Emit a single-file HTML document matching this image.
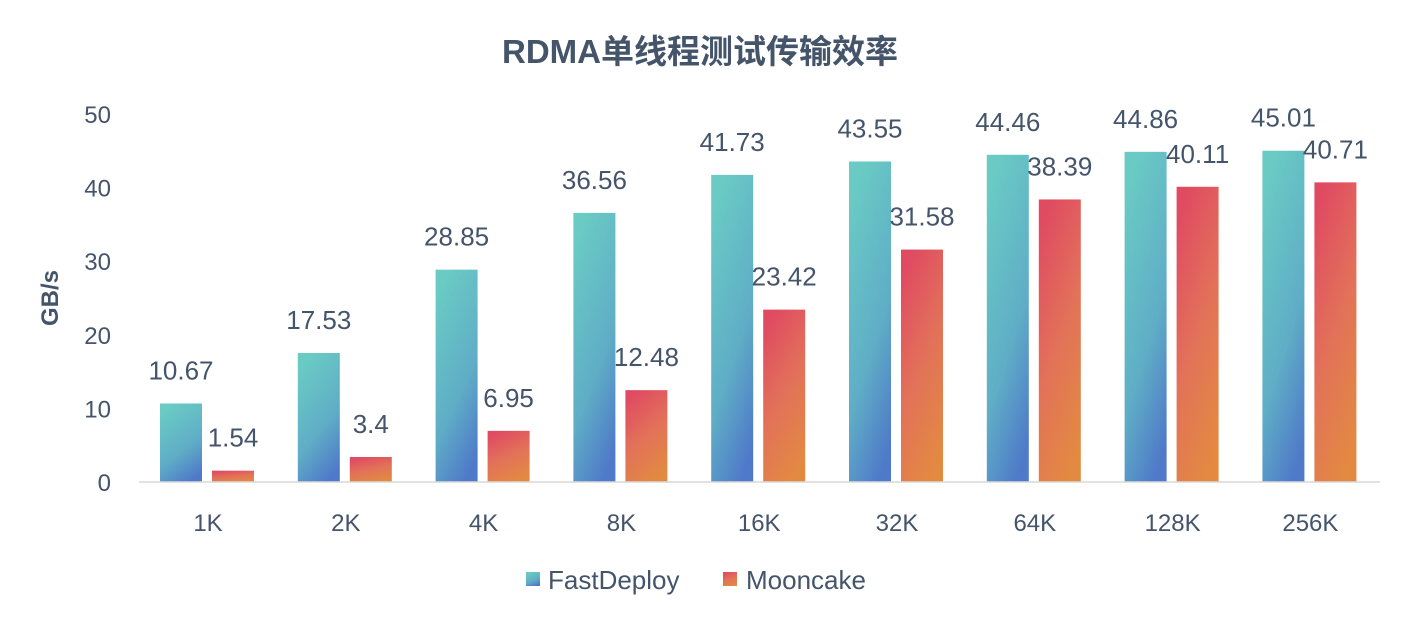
<!DOCTYPE html>
<html><head><meta charset="utf-8"><style>
body{margin:0;background:#fff;}
svg text{font-family:"Liberation Sans","Noto Sans CJK SC",sans-serif;fill:#44546a;}
</style></head><body>
<svg width="1412" height="624" xmlns="http://www.w3.org/2000/svg">
<defs>
<linearGradient id="gFD" x1="0.3" y1="0" x2="0.7" y2="1"><stop offset="0" stop-color="#6acbc4"/><stop offset="0.6" stop-color="#5fadc6"/><stop offset="1" stop-color="#4f79c9"/></linearGradient>
<linearGradient id="gMC" x1="0.3" y1="0" x2="0.7" y2="1"><stop offset="0" stop-color="#e04b62"/><stop offset="0.5" stop-color="#e27259"/><stop offset="1" stop-color="#e38a41"/></linearGradient>
</defs>
<text x="700" y="63" text-anchor="middle" font-size="33" font-weight="bold">RDMA单线程测试传输效率</text>
<text transform="translate(58,298) rotate(-90)" text-anchor="middle" font-size="24" font-weight="bold">GB/s</text>
<g id="yaxis"></g><g id="bars"></g><g id="xaxis"></g>
<line x1="139" y1="482" x2="1380" y2="482" stroke="#d9d9d9" stroke-width="1.5"/>
<g>
<rect x="526" y="572" width="14" height="14" fill="url(#gFD)"/>
<text x="548" y="589" font-size="26">FastDeploy</text>
<rect x="723" y="572" width="14" height="14" fill="url(#gMC)"/>
<text x="746" y="589" font-size="26">Mooncake</text>
</g>
</svg>
<script>
const categories=["1K","2K","4K","8K","16K","32K","64K","128K","256K"];
const fastDeploy=[10.67,17.53,28.85,36.56,41.73,43.55,44.46,44.86,45.01];
const mooncake=[1.54,3.4,6.95,12.48,23.42,31.58,38.39,40.11,40.71];
const yTicks=[0,10,20,30,40,50];
const NS="http://www.w3.org/2000/svg";
const y0=482,ppu=7.36;
const yS=v=>y0-v*ppu;
const xC=i=>208+i*137.8;
function mk(tag,attrs,parent,txt){const e=document.createElementNS(NS,tag);for(const k in attrs)e.setAttribute(k,attrs[k]);if(txt!==undefined)e.textContent=txt;parent.appendChild(e);return e;}
const ya=document.getElementById('yaxis'),bg=document.getElementById('bars'),xa=document.getElementById('xaxis');
yTicks.forEach(t=>{const e=mk('text',{x:111,y:yS(t)+9,'text-anchor':'end','font-size':24},ya,String(t));

});
categories.forEach((c,i)=>{
 const cx=xC(i);
 const l=mk('text',{x:cx,y:531,'text-anchor':'middle','font-size':24},xa,c);
 
 
 const b1=mk('rect',{x:cx-48,y:yS(fastDeploy[i]),width:42,height:fastDeploy[i]*ppu,fill:'url(#gFD)'},bg);
 
 
 const b2=mk('rect',{x:cx+4,y:yS(mooncake[i]),width:42,height:mooncake[i]*ppu,fill:'url(#gMC)'},bg);
 
 
 const t1=mk('text',{x:cx-27,y:yS(fastDeploy[i])-24,'text-anchor':'middle','font-size':26},bg,String(fastDeploy[i]));
 
 
 const t2=mk('text',{x:cx+25,y:yS(mooncake[i])-24,'text-anchor':'middle','font-size':26},bg,String(mooncake[i]));
 
 
});
</script>
</body></html>
